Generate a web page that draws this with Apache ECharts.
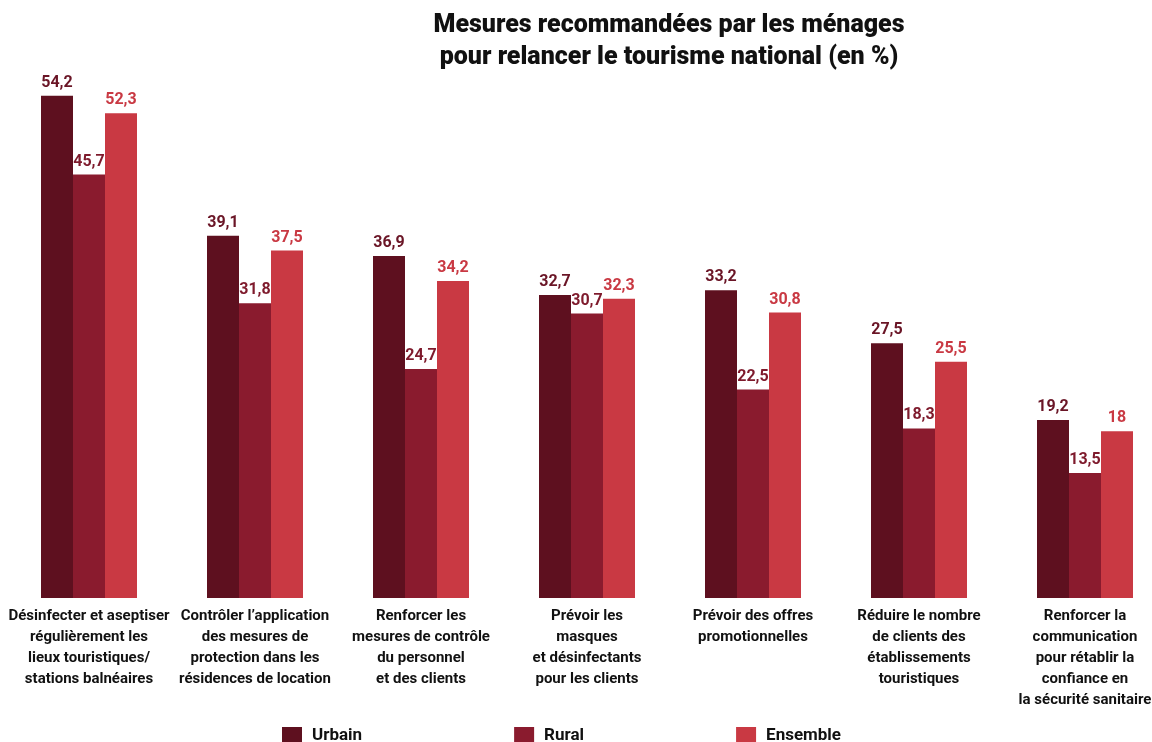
<!DOCTYPE html>
<html>
<head>
<meta charset="utf-8">
<script src="https://cdn.jsdelivr.net/npm/echarts@6/dist/echarts.min.js"></script>
<style>
html, body { margin: 0; padding: 0; background: #fff; }
#chart { width: 1152px; height: 742px; }
</style>
</head>
<body>
<div id="chart"></div>
<script>
// categories (x axis)
var categories = [
    "Désinfecter et aseptiser\nrégulièrement les\nlieux touristiques/\nstations balnéaires",
    "Contrôler l’application\ndes mesures de\nprotection dans les\nrésidences de location",
    "Renforcer les\nmesures de contrôle\ndu personnel\net des clients",
    "Prévoir les\nmasques\net désinfectants\npour les clients",
    "Prévoir des offres\npromotionnelles",
    "Réduire le nombre\nde clients des\nétablissements\ntouristiques",
    "Renforcer la\ncommunication\npour rétablir la\nconfiance en\nla sécurité sanitaire"
];
var urbain = [54.2, 39.1, 36.9, 32.7, 33.2, 27.5, 19.2];
var rural = [45.7, 31.8, 24.7, 30.7, 22.5, 18.3, 13.5];
var ensemble = [52.3, 37.5, 34.2, 32.3, 30.8, 25.5, 18];

var FONT = "Roboto";
var chart = echarts.init(document.getElementById("chart"));

function makeSeries(name, data, color, labelColor) {
    return {
        name: name,
        type: "bar",
        data: data,
        barWidth: 32,
        barGap: "0%",
        itemStyle: { color: color },
        label: {
            show: true,
            position: "top",
            distance: 5,
            color: labelColor,
            fontFamily: FONT,
            fontWeight: "bold",
            fontSize: 16,
            formatter: function (p) {
                return String(p.value).replace(".", ",");
            }
        }
    };
}

var option = {
    backgroundColor: "#fff",
    animation: false,
    graphic: [{
        type: "text",
        x: 669,
        y: 10,
        style: {
            text: "Mesures recommandées par les ménages\npour relancer le tourisme national (en %)",
            textAlign: "center",
            font: "900 25px " + FONT,
            lineHeight: 32,
            fill: "#111"
        }
    }],
    legend: {
        left: 282,
        top: 727,
        padding: 0,
        itemWidth: 20,
        itemHeight: 18,
        itemGap: 152,
        icon: "rect",
        textStyle: {
            fontFamily: FONT,
            fontWeight: "bold",
            fontSize: 17,
            padding: [0, 0, 0, 5],
            color: "#111"
        },
        data: ["Urbain", "Rural", "Ensemble"]
    },
    grid: {
        left: 6,
        right: -16,
        top: 42,
        bottom: 144,
        containLabel: false,
        outerBoundsMode: "none"
    },
    xAxis: {
        type: "category",
        data: categories,
        axisLine: { show: false },
        axisTick: { show: false },
        axisLabel: {
            interval: 0,
            margin: 8,
            fontFamily: FONT,
            fontWeight: "bold",
            fontSize: 15,
            lineHeight: 21,
            color: "#111"
        }
    },
    yAxis: {
        type: "value",
        min: 0,
        max: 60,
        show: false
    },
    series: [
        makeSeries("Urbain", urbain, "#5e101f", "#6a1526"),
        makeSeries("Rural", rural, "#8a1b2e", "#7e1a2c"),
        makeSeries("Ensemble", ensemble, "#c93943", "#c93943")
    ]
};

chart.setOption(option);
</script>
</body>
</html>
